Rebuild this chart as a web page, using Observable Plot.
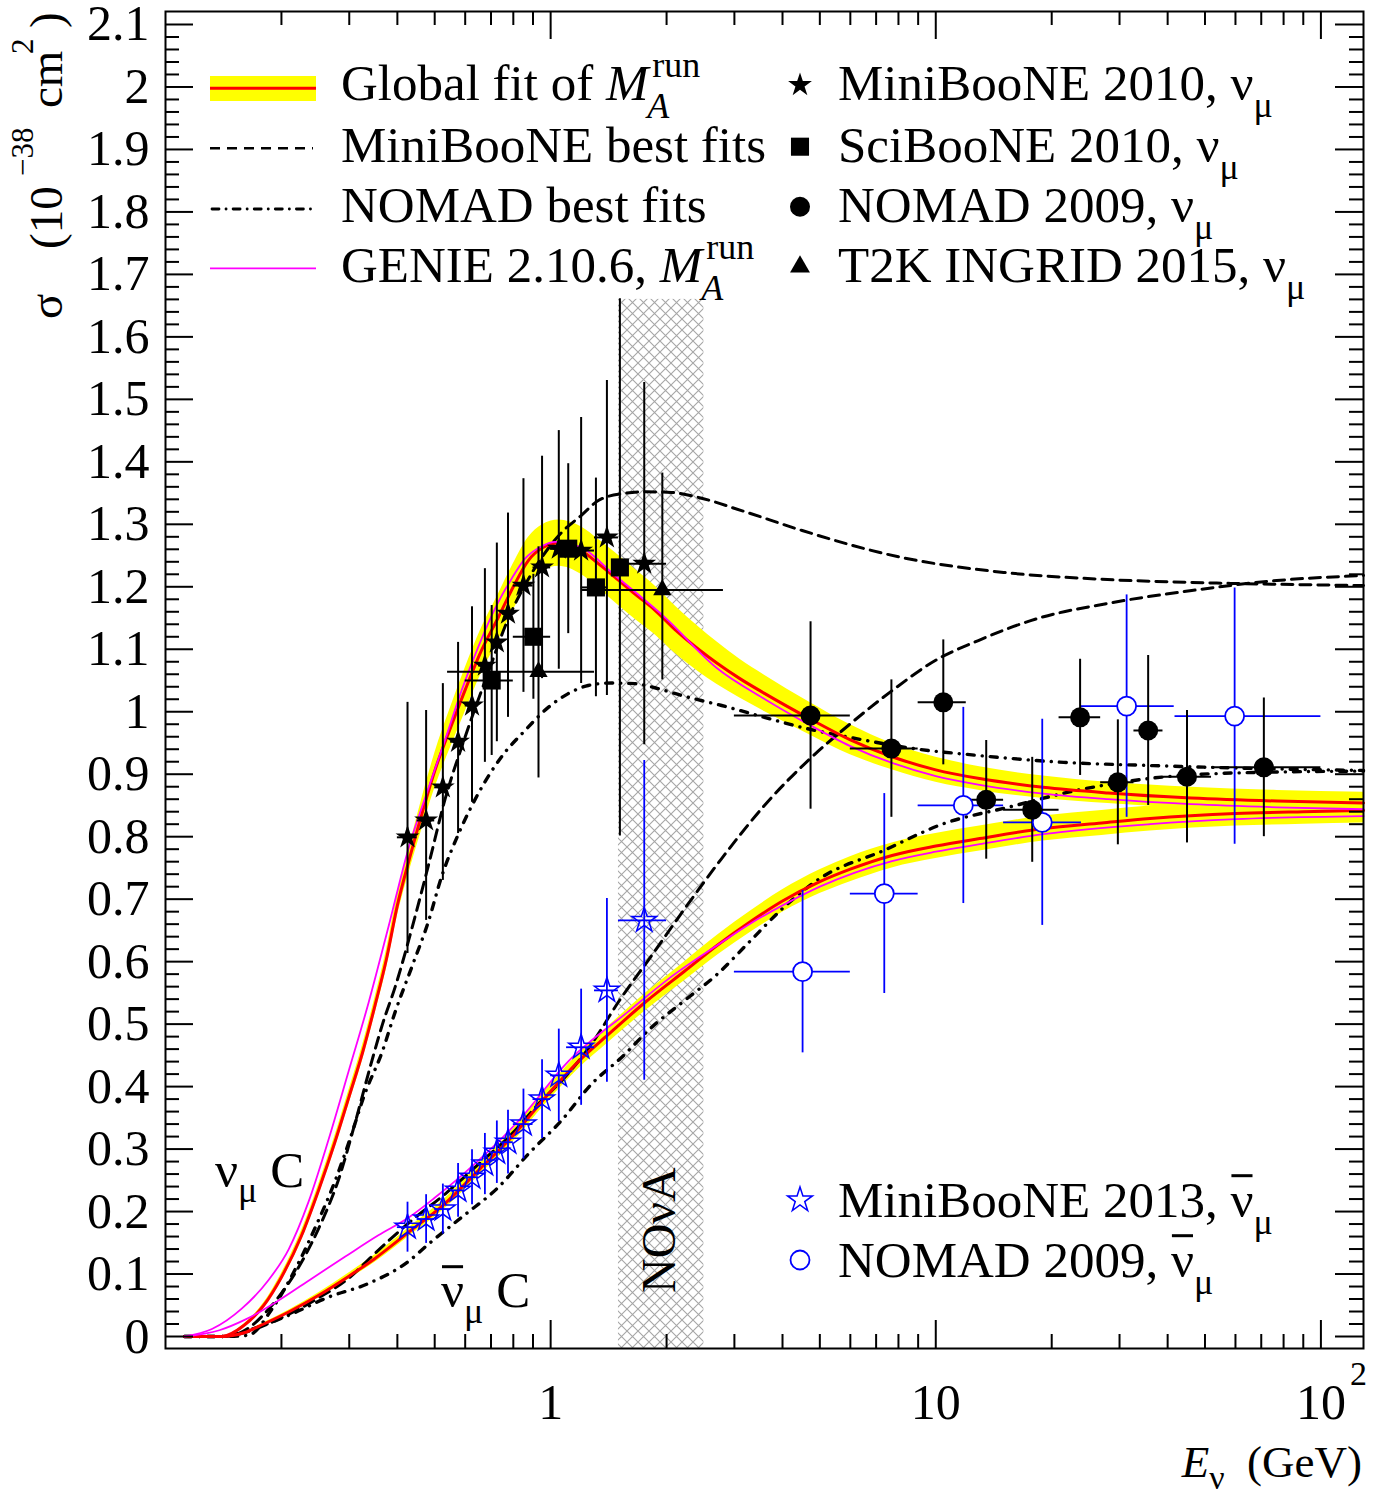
<!DOCTYPE html>
<html><head><meta charset="utf-8">
<script src="https://cdn.jsdelivr.net/npm/d3@7"></script>
<script src="https://cdn.jsdelivr.net/npm/@observablehq/plot@0.6"></script>
<style>
body{margin:0;background:#fff;}
#chart{position:relative;width:1391px;height:1495px;}
</style></head><body><div id="chart"></div>
<script>
// ---------------- axis ticks / labels ----------------
const yTicks = [0,0.1,0.2,0.3,0.4,0.5,0.6,0.7,0.8,0.9,1,1.1,1.2,1.3,1.4,1.5,1.6,1.7,1.8,1.9,2,2.1];
const yTickLabels = ["0","0.1","0.2","0.3","0.4","0.5","0.6","0.7","0.8","0.9","1","1.1","1.2","1.3","1.4","1.5","1.6","1.7","1.8","1.9","2","2.1"];
const xTicks = [1,10,100];
const xTickText = ["1","10","10"];
const xMinorTicks = [0.2,0.3,0.4,0.5,0.6,0.7,0.8,0.9,2,3,4,5,6,7,8,9,20,30,40,50,60,70,80,90];

// ---------------- NOvA band ----------------
const novaRange = [1.5, 2.5];
const novaTop = 1.66;

// ---------------- curves: global fit (red + yellow band) ----------------
const fitNuE = [0.112,0.14,0.16,0.18,0.2,0.225,0.25,0.275,0.3,0.325,0.35,0.375,0.4,0.43,0.46,0.5,0.55,0.6,0.66,0.73,0.8,0.875,0.95,1.05,1.2,1.33,1.47,1.65,1.87,2.1,2.42,2.7,3.1,3.6,4.7,6,7.7,10,13,19,28,46,77,129];
const fitNuS = [0,0,0.018,0.05,0.095,0.16,0.235,0.31,0.385,0.455,0.53,0.605,0.69,0.765,0.83,0.905,0.975,1.035,1.097,1.15,1.2,1.242,1.262,1.27,1.258,1.237,1.215,1.189,1.162,1.132,1.100,1.078,1.053,1.029,0.989,0.955,0.928,0.907,0.893,0.879,0.87,0.862,0.857,0.854];
const fitNuD = [0,0,0.002,0.004,0.006,0.008,0.009,0.01,0.011,0.012,0.013,0.015,0.017,0.02,0.024,0.028,0.032,0.035,0.036,0.037,0.037,0.037,0.037,0.037,0.038,0.039,0.04,0.04,0.039,0.038,0.036,0.034,0.031,0.029,0.026,0.024,0.021,0.02,0.019,0.018,0.017,0.017,0.017,0.017];

const fitNubE = [0.112,0.14,0.16,0.18,0.21,0.25,0.3,0.35,0.43,0.53,0.65,0.8,0.97,1.18,1.41,1.76,2.23,2.72,3.32,4,5,6,7.7,10,13,19,27,36,60,90,129];
const fitNubS = [0,0,0.006,0.02,0.04,0.066,0.097,0.125,0.168,0.212,0.266,0.322,0.383,0.44,0.483,0.535,0.585,0.627,0.665,0.697,0.728,0.748,0.77,0.785,0.797,0.813,0.822,0.829,0.837,0.840,0.842];
const fitNubD = [0,0,0.001,0.002,0.003,0.004,0.005,0.006,0.007,0.008,0.009,0.01,0.011,0.012,0.013,0.014,0.015,0.016,0.017,0.018,0.019,0.02,0.02,0.02,0.02,0.02,0.02,0.02,0.02,0.02,0.02];

// ---------------- GENIE (magenta) ----------------
const genieNuE = [0.112,0.132,0.158,0.185,0.209,0.235,0.265,0.299,0.337,0.379,0.427,0.48,0.532,0.588,0.65,0.717,0.792,0.858,0.948,1.026,1.2,1.47,1.98,2.7,3.6,4.7,6,7.7,10,13,19,28,46,77,129];
const genieNuS = [0,0.012,0.045,0.09,0.14,0.215,0.315,0.425,0.535,0.655,0.78,0.875,0.955,1.035,1.105,1.165,1.213,1.245,1.265,1.272,1.263,1.218,1.151,1.07,1.02,0.979,0.945,0.918,0.897,0.883,0.869,0.86,0.852,0.847,0.844];
const genieNubE = [0.112,0.138,0.161,0.197,0.24,0.293,0.357,0.427,0.5,0.588,0.825,1.11,1.59,2.02,2.72,3.32,4,5,7.7,10,13,19,36,60,129];
const genieNubS = [0,0.01,0.027,0.058,0.093,0.128,0.162,0.19,0.222,0.258,0.345,0.44,0.52,0.572,0.627,0.662,0.69,0.72,0.761,0.776,0.788,0.804,0.82,0.828,0.833];

// ---------------- MiniBooNE best fits (dashed) ----------------
const mbNuE = [0.112,0.14,0.155,0.189,0.226,0.255,0.281,0.31,0.343,0.366,0.395,0.445,0.482,0.532,0.6,0.7,0.761,0.9,1.068,1.2,1.33,1.53,1.757,2.06,2.42,3.13,4.5,8,15,27,46,77,129];
const mbNuS = [0,0,0.005,0.05,0.12,0.185,0.25,0.34,0.44,0.5,0.56,0.673,0.755,0.86,0.96,1.075,1.136,1.225,1.287,1.314,1.338,1.349,1.352,1.351,1.343,1.322,1.29,1.248,1.223,1.212,1.207,1.204,1.202];
const mbNubE = [0.112,0.14,0.16,0.2,0.25,0.3,0.343,0.436,0.532,0.65,0.792,0.929,1.089,1.277,1.498,1.83,2.23,2.78,3.59,4.72,5.98,7.71,9.97,12.9,18.8,27.7,46.2,76.8,129];
const mbNubS = [0,0,0.006,0.03,0.062,0.094,0.128,0.186,0.228,0.276,0.324,0.372,0.415,0.468,0.535,0.61,0.685,0.765,0.85,0.925,0.98,1.034,1.082,1.114,1.151,1.173,1.194,1.21,1.218];

// ---------------- NOMAD best fits (dash-dot) ----------------
const nomNuE = [0.112,0.14,0.164,0.189,0.217,0.245,0.276,0.299,0.33,0.365,0.395,0.437,0.482,0.521,0.576,0.65,0.75,0.858,0.986,1.111,1.252,1.439,1.655,1.9,2.19,2.46,2.78,3.59,4.63,5.98,8.77,12.9,21.5,35.6,59.7,129];
const nomNuS = [0,0,0.002,0.044,0.107,0.175,0.25,0.31,0.39,0.455,0.52,0.593,0.665,0.736,0.804,0.87,0.93,0.97,1.007,1.029,1.042,1.046,1.045,1.037,1.026,1.018,1.01,0.991,0.973,0.959,0.941,0.93,0.919,0.914,0.91,0.906];
const nomNubE = [0.112,0.14,0.164,0.209,0.265,0.337,0.427,0.482,0.588,0.732,0.875,1.068,1.277,1.53,1.83,2.23,2.72,3.25,4,5,7.33,10.5,15.4,23.2,35.6,59.7,129];
const nomNubS = [0,0,0.01,0.034,0.063,0.085,0.12,0.148,0.191,0.239,0.292,0.346,0.404,0.447,0.495,0.538,0.581,0.629,0.685,0.733,0.778,0.821,0.847,0.874,0.893,0.902,0.905];

// ---------------- data: MiniBooNE 2010 nu_mu (filled stars) ----------------
const mb10E  = [0.425,0.475,0.525,0.575,0.625,0.675,0.725,0.775,0.85,0.95,1.05,1.2,1.4,1.75];
const mb10S  = [0.799,0.826,0.879,0.952,1.010,1.074,1.111,1.157,1.202,1.231,1.261,1.258,1.279,1.237];
const mb10Up = [0.216,0.176,0.166,0.159,0.158,0.155,0.159,0.161,0.171,0.178,0.189,0.213,0.251,0.29];
const mb10Dn = [0.186,0.16,0.149,0.147,0.155,0.155,0.159,0.166,0.171,0.178,0.193,0.213,0.253,0.29];
const mbBinLo = [0.4,0.45,0.5,0.55,0.6,0.65,0.7,0.75,0.8,0.9,1.0,1.1,1.3,1.5];
const mbBinHi = [0.45,0.5,0.55,0.6,0.65,0.7,0.75,0.8,0.9,1.0,1.1,1.3,1.5,2.0];

// ---------------- SciBooNE 2010 (squares) ----------------
const sbE  = [0.703,0.902,1.111,1.311,1.513];
const sbS  = [1.050,1.120,1.261,1.199,1.231];
const sbErr = [0.12,0.10,0.136,0.175,0.43];
const sbLo = [0.6,0.8,1.0,1.2,1.45];
const sbHi = [0.8,1.0,1.2,1.4,1.58];

// ---------------- T2K INGRID 2015 (triangles) ----------------
const t2kE = [0.93,1.95];
const t2kS = [1.064,1.195];
const t2kUp = [0.20,0.187];
const t2kDn = [0.17,0.144];
const t2kLo = [0.54,1.21];
const t2kHi = [1.30,2.81];

// ---------------- NOMAD 2009 nu_mu (filled circles) ----------------
const nomE  = [4.73,7.67,10.46,13.52,17.8,23.7,29.7,35.6,44.9,71.1];
const nomS  = [0.994,0.941,1.015,0.859,0.843,0.991,0.887,0.970,0.896,0.911];
const nomErr = [0.15,0.11,0.10,0.095,0.084,0.093,0.10,0.12,0.106,0.111];
const nomLo = [3.0,6.0,9.0,12.0,15.0,20.9,26.8,32.7,38.9,52];
const nomHi = [6.0,9.0,12.0,15.0,20.9,26.8,32.7,38.9,52,100];

// ---------------- MiniBooNE 2013 anti-nu (open blue stars) ----------------
const mb13S  = [0.175,0.188,0.204,0.234,0.255,0.276,0.295,0.311,0.340,0.380,0.418,0.463,0.554,0.666];
const mb13Err = [0.04,0.039,0.04,0.043,0.044,0.049,0.05,0.051,0.056,0.063,0.074,0.093,0.147,0.256];

// ---------------- NOMAD 2009 anti-nu (open blue circles) ----------------
const nombE  = [4.51,7.35,11.79,18.9,31.3,59.7];
const nombS  = [0.584,0.709,0.850,0.823,1.009,0.993];
const nombErr = [0.13,0.16,0.157,0.165,0.178,0.205];
const nombLo = [3.0,6.0,9.0,15.0,23.9,41.8];
const nombHi = [6.0,9.0,15.0,23.9,41.6,100];

// ================= build =================
const FONT = "Liberation Serif, Times New Roman, serif";
const W = 1391, H = 1495, mL = 165, mR = 28, mT = 11, mB = 147;
const plotW = W - mL - mR, plotH = H - mT - mB;
const xDomain = [0.1, 129], yDomain = [-0.0192, 2.1208];
const BLUE = "#0000ff";

const line = (E, S) => E.map((e, i) => ({E: e, s: S[i]}));
const band = (E, S, D) => E.map((e, i) => ({E: e, lo: S[i] - D[i], hi: S[i] + D[i]}));
const pts = (E, S, up, dn, lo, hi) => E.map((e, i) => ({E: e, s: S[i], lo: S[i] - dn[i], hi: S[i] + up[i], xlo: lo[i], xhi: hi[i]}));

const dMB10 = pts(mb10E, mb10S, mb10Up, mb10Dn, mbBinLo, mbBinHi);
const dSB = pts(sbE, sbS, sbErr, sbErr, sbLo, sbHi);
const dT2K = pts(t2kE, t2kS, t2kUp, t2kDn, t2kLo, t2kHi);
const dNOM = pts(nomE, nomS, nomErr, nomErr, nomLo, nomHi);
const dMB13 = pts(mb10E, mb13S, mb13Err, mb13Err, mbBinLo, mbBinHi);
const dNOMB = pts(nombE, nombS, nombErr, nombErr, nombLo, nombHi);

const dashed = {stroke: "black", strokeWidth: 3, strokeDasharray: "11,7", curve: "monotone-x"};
const dashdot = {stroke: "black", strokeWidth: 3.4, strokeDasharray: "7,8,0.1,8", strokeLinecap: "round", curve: "monotone-x"};

function errBars(d, color, w) {
  return [
    Plot.ruleX(d, {x: "E", y1: "lo", y2: "hi", stroke: color, strokeWidth: w}),
    Plot.ruleY(d, {y: "s", x1: "xlo", x2: "xhi", stroke: color, strokeWidth: w})
  ];
}
const minorY = d3.range(0, 106).map(i => i * 0.02).filter(v => Math.abs(v * 10 - Math.round(v * 10)) > 1e-6);

const svg = Plot.plot({
  width: W, height: H,
  marginLeft: mL, marginRight: mR, marginTop: mT, marginBottom: mB,
  style: {fontFamily: FONT, background: "white"},
  x: {type: "log", domain: xDomain, axis: null},
  y: {domain: yDomain, axis: null},
  marks: [
    Plot.rect([{a: novaRange[0], b: novaRange[1], c: yDomain[0], d: novaTop}], {x1: "a", x2: "b", y1: "c", y2: "d", fill: "#010203"}),
    Plot.areaY(band(fitNuE, fitNuS, fitNuD), {x: "E", y1: "lo", y2: "hi", fill: "#ffff00", curve: "monotone-x"}),
    Plot.areaY(band(fitNubE, fitNubS, fitNubD), {x: "E", y1: "lo", y2: "hi", fill: "#ffff00", curve: "monotone-x"}),
    Plot.line(line(mbNuE, mbNuS), {x: "E", y: "s", ...dashed}),
    Plot.line(line(mbNubE, mbNubS), {x: "E", y: "s", ...dashed}),
    Plot.line(line(nomNuE, nomNuS), {x: "E", y: "s", ...dashdot}),
    Plot.line(line(nomNubE, nomNubS), {x: "E", y: "s", ...dashdot}),
    Plot.line(line(fitNuE, fitNuS), {x: "E", y: "s", stroke: "#ff0000", strokeWidth: 3, curve: "monotone-x"}),
    Plot.line(line(fitNubE, fitNubS), {x: "E", y: "s", stroke: "#ff0000", strokeWidth: 3, curve: "monotone-x"}),
    Plot.line(line(genieNuE, genieNuS), {x: "E", y: "s", stroke: "#ff00ff", strokeWidth: 1.8, curve: "monotone-x"}),
    Plot.line(line(genieNubE, genieNubS), {x: "E", y: "s", stroke: "#ff00ff", strokeWidth: 1.8, curve: "monotone-x"}),
    ...errBars(dMB13, BLUE, 1.8),
    ...errBars(dNOMB, BLUE, 1.8),
    ...errBars(dMB10, "black", 2),
    ...errBars(dSB, "black", 2),
    ...errBars(dT2K, "black", 2),
    ...errBars(dNOM, "black", 2),
    Plot.dot(dMB13, {x: "E", y: "s", symbol: "star", r: 7.8, fill: "none", stroke: BLUE, strokeWidth: 1.5}),
    Plot.dot(dNOMB, {x: "E", y: "s", symbol: "circle", r: 9.5, fill: "white", stroke: BLUE, strokeWidth: 1.8}),
    Plot.dot(dMB10, {x: "E", y: "s", symbol: "star", r: 7.5, fill: "black", stroke: "none"}),
    Plot.dot(dSB, {x: "E", y: "s", symbol: "square", r: 10.2, fill: "black", stroke: "none"}),
    Plot.dot(dT2K, {x: "E", y: "s", symbol: "triangle", r: 6.8, fill: "black", stroke: "none"}),
    Plot.dot(dNOM, {x: "E", y: "s", symbol: "circle", r: 10, fill: "black", stroke: "none"}),
    // ticks (inside, all four sides)
    Plot.tickY(yTicks, {y: d => d, insetRight: plotW - 28, stroke: "black", strokeWidth: 2}),
    Plot.tickY(yTicks, {y: d => d, insetLeft: plotW - 28, stroke: "black", strokeWidth: 2}),
    Plot.tickY(minorY, {y: d => d, insetRight: plotW - 14, stroke: "black", strokeWidth: 2}),
    Plot.tickY(minorY, {y: d => d, insetLeft: plotW - 14, stroke: "black", strokeWidth: 2}),
    Plot.tickX(xTicks, {x: d => d, insetTop: plotH - 28, stroke: "black", strokeWidth: 2}),
    Plot.tickX(xTicks, {x: d => d, insetBottom: plotH - 28, stroke: "black", strokeWidth: 2}),
    Plot.tickX(xMinorTicks, {x: d => d, insetTop: plotH - 14, stroke: "black", strokeWidth: 2}),
    Plot.tickX(xMinorTicks, {x: d => d, insetBottom: plotH - 14, stroke: "black", strokeWidth: 2}),
    Plot.frame({stroke: "black", strokeWidth: 2}),
    // tick labels
    Plot.text(yTicks, {y: d => d, text: (d, i) => yTickLabels[i], frameAnchor: "left", textAnchor: "end", dx: -16, fontSize: 50, fontFamily: FONT, fill: "black"}),
    Plot.text(xTicks, {x: d => d, text: (d, i) => xTickText[i], frameAnchor: "bottom", dy: 54, lineAnchor: "middle", fontSize: 50, fontFamily: FONT, fill: "black"}),
    Plot.text([100], {x: d => d, text: () => "2", frameAnchor: "bottom", textAnchor: "start", dx: 29, dy: 26, lineAnchor: "middle", fontSize: 34, fontFamily: FONT, fill: "black"})
  ]
});
document.getElementById("chart").appendChild(svg);

// hatch pattern for the NOvA band
const root = d3.select(svg);
const defs = root.insert("defs", ":first-child");
const pat = defs.append("pattern").attr("id", "novaHatch").attr("patternUnits", "userSpaceOnUse").attr("width", 11).attr("height", 11);
pat.append("path").attr("d", "M0,0L11,11M11,0L0,11").attr("stroke", "#a6a6a6").attr("stroke-width", 1.1).attr("fill", "none");
root.selectAll('[fill="#010203"]').attr("fill", "url(#novaHatch)");

// ---------- text helpers ----------
const g = root.append("g").attr("font-family", FONT).attr("fill", "black").attr("text-anchor", "start");
function addText(x, y, parts, attrs = {}) {
  const t = g.append("text").attr("x", x).attr("y", y).attr("text-anchor", "start").style("white-space", "pre");
  for (const [k, v] of Object.entries(attrs)) t.attr(k, v);
  for (const p of parts) {
    const s = t.append("tspan").text(p.t).attr("font-size", p.size || 51);
    if (p.dy != null) s.attr("dy", p.dy);
    if (p.x != null) s.attr("x", p.x);
    if (p.y != null) s.attr("y", p.y);
    if (p.italic) s.attr("font-style", "italic");
  }
  return t;
}
// overline over a character of a text element (anti-neutrino bar)
function overline(t, idx, rise) {
  const n = t.node();
  const x0 = n.getStartPositionOfChar(idx).x, x1 = n.getEndPositionOfChar(idx).x;
  const yb = n.getStartPositionOfChar(idx).y;
  g.append("line").attr("x1", x0 + 1).attr("x2", x1 - 1).attr("y1", yb - rise).attr("y2", yb - rise)
    .attr("stroke", "black").attr("stroke-width", 3);
}

// ---------- legend (top-left, lines) ----------
const lg = g.append("g");
lg.append("rect").attr("x", 210).attr("y", 76).attr("width", 106).attr("height", 25).attr("fill", "#ffff00");
lg.append("line").attr("x1", 210).attr("x2", 316).attr("y1", 88.3).attr("y2", 88.3).attr("stroke", "#ff0000").attr("stroke-width", 3);
lg.append("line").attr("x1", 210).attr("x2", 313).attr("y1", 148.3).attr("y2", 148.3).attr("stroke", "black").attr("stroke-width", 2.6).attr("stroke-dasharray", "10,7");
lg.append("line").attr("x1", 212).attr("x2", 313).attr("y1", 209).attr("y2", 209).attr("stroke", "black").attr("stroke-width", 2.8).attr("stroke-dasharray", "7,7,0.1,7").attr("stroke-linecap", "round");
lg.append("line").attr("x1", 210).attr("x2", 316).attr("y1", 268.3).attr("y2", 268.3).attr("stroke", "#ff00ff").attr("stroke-width", 1.8);

function withMArun(x, y, prefix) {
  const t = addText(x, y, [{t: prefix}, {t: "M", italic: true}]);
  const end = x + t.node().getComputedTextLength();
  addText(end + 4, y - 23, [{t: "run", size: 36}]);
  addText(end - 1, y + 18, [{t: "A", size: 36, italic: true}]);
}
withMArun(341, 100, "Global fit of ");
addText(341, 161.7, [{t: "MiniBooNE best fits"}]);
addText(341, 221.7, [{t: "NOMAD best fits"}]);
withMArun(341, 281.7, "GENIE 2.10.6, ");

// ---------- legend (top-right, markers) ----------
const sym = (type, r) => d3.symbol(type, Math.PI * r * r)();
const rightRows = [
  {type: d3.symbolStar, r: 7.5, label: "MiniBooNE 2010, ν", y: 100},
  {type: d3.symbolSquare, r: 10.2, label: "SciBooNE 2010, ν", y: 161.7},
  {type: d3.symbolCircle, r: 10, label: "NOMAD 2009, ν", y: 221.7},
  {type: d3.symbolTriangle, r: 7.4, label: "T2K INGRID 2015, ν", y: 281.7}
];
for (const row of rightRows) {
  lg.append("path").attr("d", sym(row.type, row.r)).attr("transform", `translate(800,${row.y - 15})`).attr("fill", "black");
  addText(838, row.y, [{t: row.label}, {t: "μ", size: 36, dy: 17}]);
}

// ---------- legend (bottom-right, anti-neutrino data) ----------
lg.append("path").attr("d", sym(d3.symbolStar, 7.8)).attr("transform", "translate(800,1200)").attr("fill", "none").attr("stroke", BLUE).attr("stroke-width", 1.5);
const lb1 = addText(838, 1216.7, [{t: "MiniBooNE 2013, ν"}, {t: "μ", size: 36, dy: 17}]);
overline(lb1, 16, 41);
lg.append("circle").attr("cx", 800).attr("cy", 1260).attr("r", 9.5).attr("fill", "white").attr("stroke", BLUE).attr("stroke-width", 1.8);
const lb2 = addText(838, 1276.7, [{t: "NOMAD 2009, ν"}, {t: "μ", size: 36, dy: 17}]);
overline(lb2, 12, 41);

// ---------- in-plot labels ----------
addText(215, 1187, [{t: "ν"}, {t: "μ", size: 36, dy: 15}, {t: " C", dy: -15}]);
const anuC = addText(441, 1306.7, [{t: "ν"}, {t: "μ", size: 36, dy: 16}, {t: " C", dy: -16}]);
overline(anuC, 0, 40);
addText(0, 0, [{t: "NOνA", size: 48}], {transform: "translate(675,1293) rotate(-90)"});

// ---------- axis titles ----------
addText(1362, 1477, [{t: "E", size: 45, italic: true}, {t: "ν", size: 34, dy: 12}, {t: "  (GeV)", size: 45, dy: -12}], {"text-anchor": "end"});
const yt = g.append("text").attr("transform", "translate(62,0) rotate(-90)").attr("text-anchor", "start").style("white-space", "pre");
yt.append("tspan").attr("x", -319).attr("y", 0).attr("font-size", 47).text("σ");
yt.append("tspan").attr("x", -249).attr("y", 0).attr("font-size", 47).text("(10");
yt.append("tspan").attr("x", -176).attr("y", -29).attr("font-size", 31).text("−38");
yt.append("tspan").attr("x", -108).attr("y", 0).attr("font-size", 47).text("cm");
yt.append("tspan").attr("x", -54).attr("y", -29).attr("font-size", 31).text("2");
yt.append("tspan").attr("x", -28).attr("y", 0).attr("font-size", 47).text(")");
</script></body></html>
